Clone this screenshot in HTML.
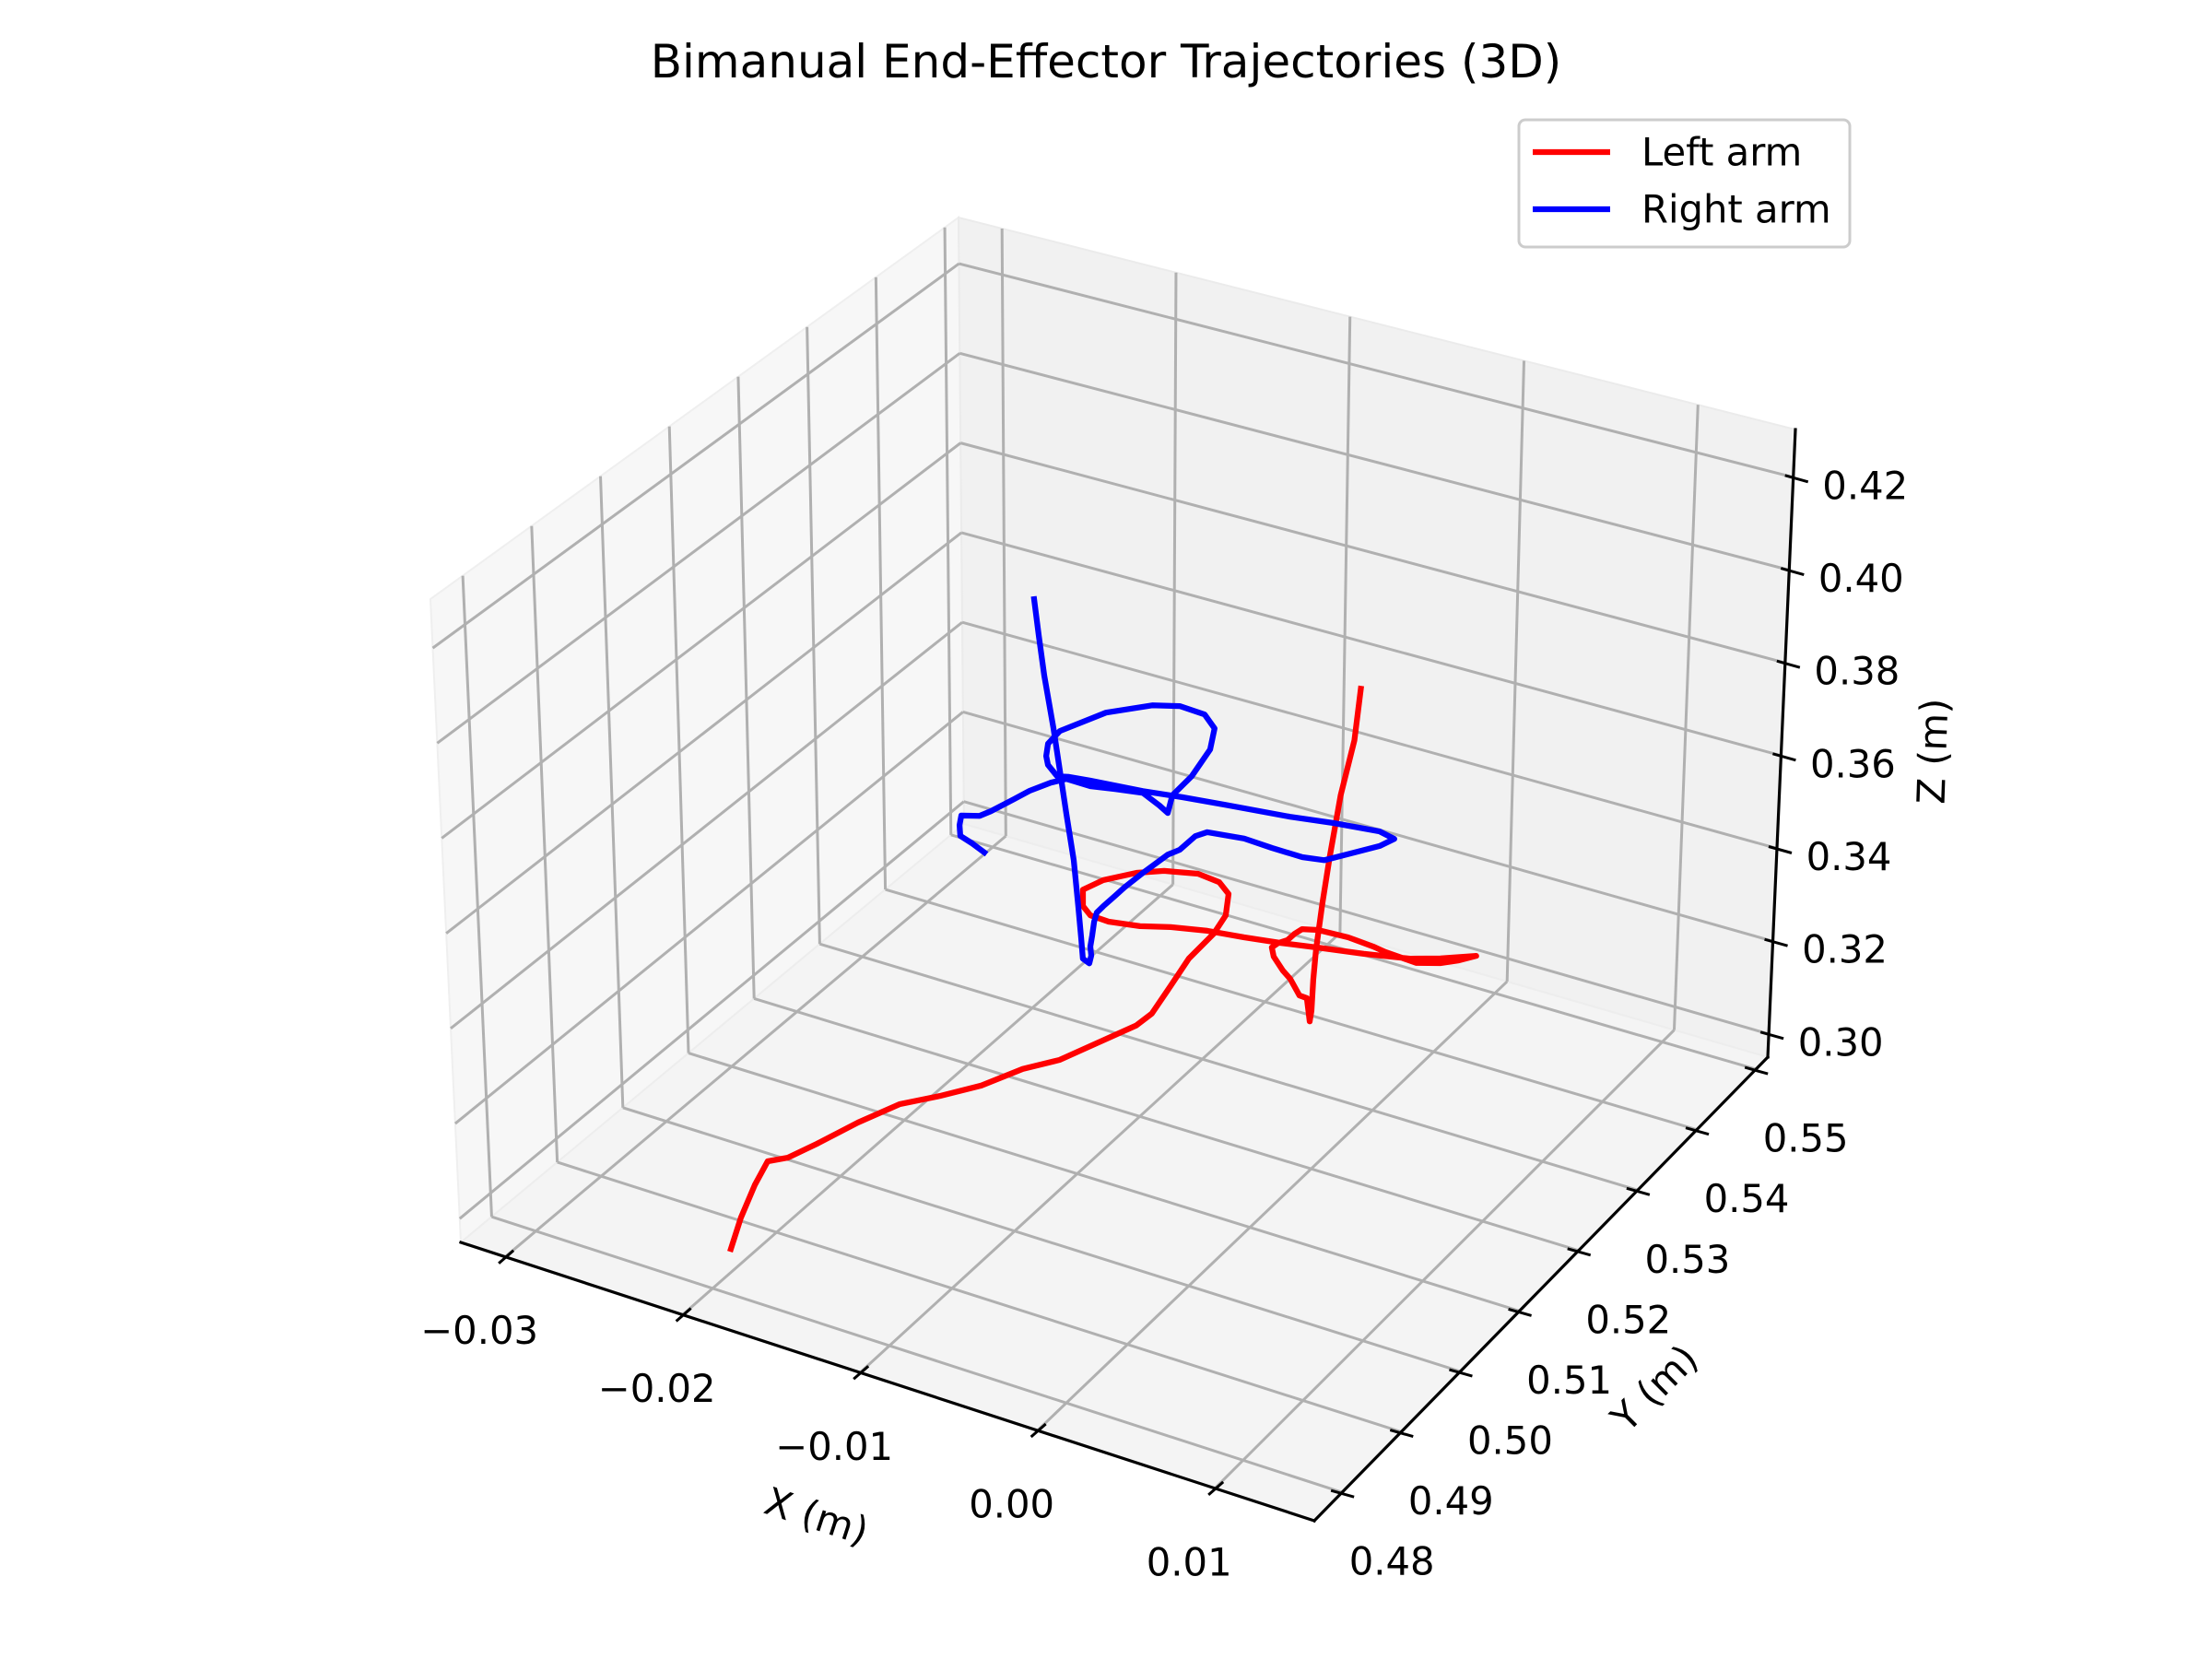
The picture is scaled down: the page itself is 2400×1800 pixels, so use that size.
<!DOCTYPE html>
<html>
<head>
<meta charset="utf-8">
<style>
  html,body{margin:0;padding:0;background:#fff;}
  svg{display:block;}
  text{font-family:"DejaVu Sans","Liberation Sans",sans-serif;fill:#000;}
</style>
</head>
<body>
<svg id="chart" width="2400" height="1800" viewBox="0 0 2400 1800" xmlns="http://www.w3.org/2000/svg">
  <rect x="0" y="0" width="2400" height="1800" fill="#ffffff"/>
  <g id="panes"></g>
  <g id="grid"></g>
  <g id="axes"></g>
  <g id="series"></g>
  <text x="1200" y="67" font-size="50" text-anchor="middle" dominant-baseline="central">Bimanual End-Effector Trajectories (3D)</text>
  <text x="0" y="0" font-size="41.7" text-anchor="middle" dominant-baseline="central" transform="translate(886,1645) rotate(18)">X (m)</text>
  <text x="0" y="0" font-size="41.7" text-anchor="middle" dominant-baseline="central" transform="translate(1795,1506) rotate(-45)">Y (m)</text>
  <text x="0" y="0" font-size="41.7" text-anchor="middle" dominant-baseline="central" transform="translate(2097,815) rotate(-88)">Z (m)</text>
  <g>
    <rect x="1648" y="130" width="359" height="138" rx="7" fill="#ffffff" fill-opacity="0.8" stroke="#cccccc" stroke-width="3"/>
    <line x1="1663" y1="165" x2="1747" y2="165" stroke="#ff0000" stroke-width="6.25"/>
    <text x="1781" y="165" font-size="41.7" dominant-baseline="central">Left arm</text>
    <line x1="1663" y1="227" x2="1747" y2="227" stroke="#0000ff" stroke-width="6.25"/>
    <text x="1781" y="227" font-size="41.7" dominant-baseline="central">Right arm</text>
  </g>
</svg>
<script>
// ---- data ----
const xTicks = [-0.03, -0.02, -0.01, 0.00, 0.01];
const xTickLabels = ["\u22120.03", "\u22120.02", "\u22120.01", "0.00", "0.01"];
const yTicks = [0.48, 0.49, 0.50, 0.51, 0.52, 0.53, 0.54, 0.55];
const yTickLabels = ["0.48", "0.49", "0.50", "0.51", "0.52", "0.53", "0.54", "0.55"];
const zTicks = [0.30, 0.32, 0.34, 0.36, 0.38, 0.40, 0.42];
const zTickLabels = ["0.30", "0.32", "0.34", "0.36", "0.38", "0.40", "0.42"];
const xLimits = [-0.0325, 0.0156];
const yLimits = [0.4753, 0.552];
const zLimits = [0.295, 0.4303];

const leftX = [-0.01991,-0.02015,-0.02006,-0.02004,-0.01963,-0.01872,-0.01707,-0.01543,-0.01385,-0.01221,-0.01057,-0.00919,-0.00553,-0.00536,
-0.00466,-0.00362,-0.00222,-0.00155,-0.0014,-0.00193,-0.00313,-0.00505,-0.00661,-0.00849,
-0.00964,-0.00964,-0.00922,-0.00818,-0.0064,-0.00467,-0.00259,-0.0005,0.00159,0.00367,
0.00627,0.00887,0.01058,0.01259,0.01162,0.01058,0.00924,0.00747,0.00678,0.00537,
0.00366,0.00277,0.00236,0.00195,0.00143,0.00107,0.00118,0.00171,0.00214,0.00267,
0.00309,0.00327,0.00336,0.00344,0.00357,0.00389,0.00426,0.00482,0.00553,0.00584];
const leftY = [0.4827,0.485,0.487,0.489,0.491,0.493,0.495,0.497,0.499,0.501,0.503,0.505,0.507,0.509,
0.51,0.51,0.51,0.51,0.51,0.51,0.51,0.51,0.51,0.51,
0.51,0.51,0.51,0.51,0.51,0.51,0.51,0.51,0.51,0.51,
0.51,0.51,0.51,0.51,0.51,0.51,0.51,0.51,0.51,0.51,
0.51,0.51,0.51,0.51,0.51,0.51,0.51,0.51,0.51,0.51,
0.51,0.51,0.51,0.51,0.51,0.51,0.51,0.51,0.51,0.51];
const leftZ = [0.3002,0.3038,0.3084,0.3111,0.3100,0.3116,0.3157,0.3191,0.3203,0.3220,0.3250,0.3261,0.3351,0.3354,
0.3408,0.3478,0.3546,0.3592,0.3639,0.3658,0.3663,0.3648,0.3627,0.3591,
0.3558,0.3523,0.3508,0.3506,0.3516,0.3533,0.3548,0.3557,0.3568,0.3581,
0.3596,0.3614,0.3633,0.366,0.364,0.3623,0.3609,0.3613,0.3617,0.3621,
0.3618,0.361,0.3596,0.3578,0.3566,0.3553,0.3535,0.3511,0.3498,0.3469,
0.3468,0.3421,0.3444,0.3511,0.3576,0.3677,0.3778,0.3914,0.4037,0.4149];

const rightX = [-0.02275,-0.02344,-0.02414,-0.02418,-0.02407,-0.023,-0.02235,-0.021,-0.02009,-0.01886,
-0.01795,-0.01657,-0.01513,-0.01353,-0.01257,-0.01209,-0.01183,-0.01072,-0.00967,-0.00942,
-0.01,-0.01143,-0.01301,-0.01566,-0.01832,-0.01901,-0.01912,-0.01902,-0.01849,-0.0178,
-0.01657,-0.01353,-0.01124,-0.00875,-0.00503,-0.00253,0.00012,0.00097,0.00014,-0.00129,
-0.00303,-0.0043,-0.00606,-0.00767,-0.0098,-0.01049,-0.01139,-0.01208,-0.01352,-0.01459,
-0.01513,-0.01582,-0.0162,-0.01636,-0.01647,-0.01658,-0.01653,-0.01664,-0.01702,-0.01712,
-0.01728,-0.01754,-0.01796,-0.01832,-0.01869,-0.01921,-0.01951,-0.01977];
const rightY = [0.53,0.53,0.53,0.53,0.53,0.53,0.53,0.53,0.53,0.53,
0.53,0.53,0.53,0.53,0.53,0.53,0.53,0.53,0.53,0.53,
0.53,0.53,0.53,0.53,0.53,0.53,0.53,0.53,0.53,0.53,
0.53,0.53,0.53,0.53,0.53,0.53,0.53,0.53,0.53,0.53,
0.53,0.53,0.53,0.53,0.53,0.53,0.53,0.53,0.53,0.53,
0.53,0.53,0.53,0.53,0.53,0.53,0.53,0.53,0.53,0.53,
0.53,0.53,0.53,0.53,0.53,0.53,0.53,0.53];
const rightZ = [0.3258,0.327,0.3279,0.3302,0.3324,0.3335,0.3352,0.3393,0.3421,0.3452,
0.347,0.3469,0.3478,0.3487,0.347,0.3459,0.35,0.3553,0.3622,0.367,
0.3694,0.3697,0.3682,0.3638,0.357,0.3535,0.3507,0.3489,0.347,0.3476,
0.3481,0.3491,0.3502,0.3512,0.3526,0.3539,0.3549,0.3542,0.3518,0.3489,
0.3454,0.3447,0.3448,0.3451,0.3442,0.3426,0.3387,0.3369,0.3314,0.3271,
0.3247,0.3217,0.3199,0.3177,0.3146,0.3121,0.3102,0.3084,0.309,0.3135,
0.3201,0.3298,0.3394,0.3482,0.3572,0.3681,0.3764,0.3841];

// ---- projection (box corners in screen space) ----
const CORNER = {
  A:[500,1348], B:[1426,1650], C:[1918,1147], D:[1046,894],
  At:[467,650], Bt:[1439,930], Ct:[1948,466], Dt:[1040,236]
};
function proj(x, y, z) {
  const u = (x - xLimits[0]) / (xLimits[1] - xLimits[0]);
  const v = (y - yLimits[0]) / (yLimits[1] - yLimits[0]);
  const w = (z - zLimits[0]) / (zLimits[1] - zLimits[0]);
  const bil = (a, b, c, d, k) => a[k]*(1-u)*(1-v) + b[k]*u*(1-v) + c[k]*u*v + d[k]*(1-u)*v;
  const fx = bil(CORNER.A, CORNER.B, CORNER.C, CORNER.D, 0);
  const fy = bil(CORNER.A, CORNER.B, CORNER.C, CORNER.D, 1);
  const tx = bil(CORNER.At, CORNER.Bt, CORNER.Ct, CORNER.Dt, 0);
  const ty = bil(CORNER.At, CORNER.Bt, CORNER.Ct, CORNER.Dt, 1);
  return [fx + (tx - fx) * w, fy + (ty - fy) * w];
}

const NS = "http://www.w3.org/2000/svg";
function mk(tag, attrs, parent) {
  const el = document.createElementNS(NS, tag);
  for (const k in attrs) el.setAttribute(k, attrs[k]);
  parent.appendChild(el);
  return el;
}
const gPanes = document.getElementById("panes");
const gGrid = document.getElementById("grid");
const gAxes = document.getElementById("axes");
const gSeries = document.getElementById("series");
const [x0, x1] = xLimits, [y0, y1] = yLimits, [z0, z1] = zLimits;
const pts = arr => arr.map(p => p[0].toFixed(1) + "," + p[1].toFixed(1)).join(" ");

// panes
let pane = mk("polygon", {points: pts([proj(x0,y0,z0), proj(x0,y1,z0), proj(x0,y1,z1), proj(x0,y0,z1)]), fill:"#f7f7f7", stroke:"#efefef", "stroke-width":2}, gPanes);


pane = mk("polygon", {points: pts([proj(x0,y1,z0), proj(x1,y1,z0), proj(x1,y1,z1), proj(x0,y1,z1)]), fill:"#f1f1f1", stroke:"#ebebeb", "stroke-width":2}, gPanes);


pane = mk("polygon", {points: pts([proj(x0,y0,z0), proj(x1,y0,z0), proj(x1,y1,z0), proj(x0,y1,z0)]), fill:"#f4f4f4", stroke:"#ededed", "stroke-width":2}, gPanes);



function gridLine(p, q, name) {
  const el = mk("line", {x1:p[0], y1:p[1], x2:q[0], y2:q[1], stroke:"#b0b0b0", "stroke-width":3}, gGrid);
  
  
}
xTicks.forEach(t => {
  gridLine(proj(t,y0,z0), proj(t,y1,z0), "x-gridline-floor");
  gridLine(proj(t,y1,z0), proj(t,y1,z1), "x-gridline-back");
});
yTicks.forEach(t => {
  gridLine(proj(x0,t,z0), proj(x1,t,z0), "y-gridline-floor");
  gridLine(proj(x0,t,z0), proj(x0,t,z1), "y-gridline-left");
});
zTicks.forEach(t => {
  gridLine(proj(x0,y0,t), proj(x0,y1,t), "z-gridline-left");
  gridLine(proj(x0,y1,t), proj(x1,y1,t), "z-gridline-back");
});

function axisLine(p, q, name) {
  const el = mk("line", {x1:p[0], y1:p[1], x2:q[0], y2:q[1], stroke:"#000", "stroke-width":3.2, "stroke-linecap":"square"}, gAxes);
  
  
}
axisLine(proj(x0,y0,z0), proj(x1,y0,z0), "x-axis-line");
axisLine(proj(x1,y0,z0), proj(x1,y1,z0), "y-axis-line");
axisLine(proj(x1,y1,z0), proj(x1,y1,z1), "z-axis-line");

function tickAndLabel(p, d1, d2, lo, label, name) {
  const t = mk("line", {x1:p[0]+d1[0], y1:p[1]+d1[1], x2:p[0]+d2[0], y2:p[1]+d2[1], stroke:"#000", "stroke-width":3}, gAxes);
  
  
  const tx = mk("text", {x:p[0]+lo[0], y:p[1]+lo[1], "font-size":41.7, "text-anchor":"middle", "dominant-baseline":"central"}, gAxes);
  tx.textContent = label;
  
  
}
xTicks.forEach((t, i) => tickAndLabel(proj(t,y0,z0), [-7,7], [9,-7], [-28,80], xTickLabels[i], "x"));
yTicks.forEach((t, i) => tickAndLabel(proj(x1,t,z0), [-12,-2], [13,5], [54,75], yTickLabels[i], "y"));
zTicks.forEach((t, i) => tickAndLabel(proj(x1,y1,t), [-9,-2], [16,5], [78,9], zTickLabels[i], "z"));

function series(xs, ys, zs, color, name) {
  const p = xs.map((x, i) => proj(x, ys[i], zs[i]));
  const el = mk("polyline", {points: pts(p), fill:"none", stroke:color, "stroke-width":6.25, "stroke-linejoin":"round", "stroke-linecap":"square"}, gSeries);
  
  
}
series(leftX, leftY, leftZ, "#ff0000", "left-arm-trajectory");
series(rightX, rightY, rightZ, "#0000ff", "right-arm-trajectory");
</script>
</body>
</html>
